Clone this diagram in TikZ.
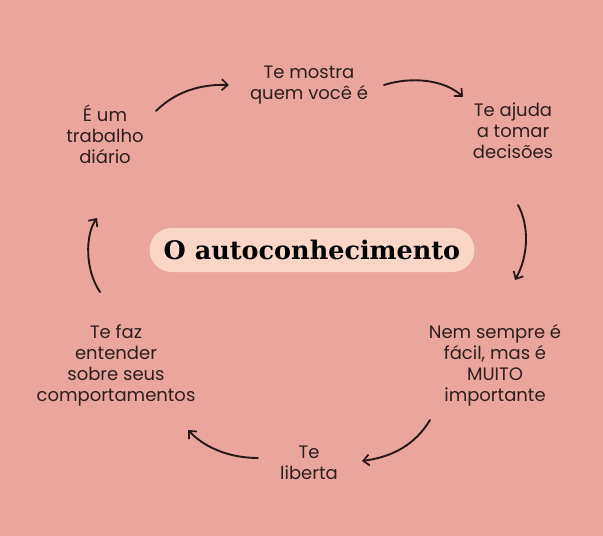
\documentclass[tikz,border=0pt]{standalone}
\usepackage{fontspec}
\setmainfont{Poppins}
\newfontfamily\titlefont{DejaVu Serif}
\usetikzlibrary{arrows.meta}
\definecolor{bg}{RGB}{234,166,156}
\definecolor{pill}{RGB}{250,214,198}
\definecolor{ink}{RGB}{46,30,30}
\definecolor{arrowink}{RGB}{40,22,22}
\tikzset{
  lbl/.style={align=center, inner sep=0pt, text=ink, font=\fontsize{18}{21}\selectfont},
  cyc/.style={draw=arrowink, line width=1.9pt, line cap=round, -{Straight Barb[length=6pt,width=11pt,line width=1.7pt]}}
}
\begin{document}
\begin{tikzpicture}[x=1pt,y=-1pt]
\fill[bg] (0,0) rectangle (603,536);
\useasboundingbox (0,0) rectangle (603,536);
% centre
\node[fill=pill, rounded corners=22pt, minimum width=325pt, minimum height=44pt, inner sep=0pt,
      text=black, font=\titlefont\bfseries\fontsize{25.5}{30}\selectfont] (c) at (312,250) {O autoconhecimento};
% labels
\node[lbl] (mostra) at (309,85) {Te mostra\\quem você é};
\node[lbl] (ajuda) at (513,131) {Te ajuda\\a tomar\\decisões};
\node[lbl] (nem) at (495,365) {Nem sempre é\\fácil, mas é\\MUITO\\importante};
\node[lbl] (liberta) at (309,463) {Te\\liberta};
\node[lbl] (faz) at (116,365) {Te faz\\entender\\sobre seus\\comportamentos};
\node[lbl] (trab) at (105,134) {É um\\trabalho\\diário};
% arrow end points
\coordinate (a1s) at (156,111); \coordinate (a1e) at (229,85);
\coordinate (a2s) at (384,85);  \coordinate (a2e) at (463,97);
\coordinate (a3s) at (518,205); \coordinate (a3e) at (515,280);
\coordinate (a4s) at (430,420); \coordinate (a4e) at (362,461);
\coordinate (a5s) at (258,458); \coordinate (a5e) at (188,430);
\coordinate (a6s) at (100,292); \coordinate (a6e) at (97,218);
\draw[cyc] (a1s) .. controls (175,92) and (200,84) .. (a1e);
\draw[cyc] (a2s) .. controls (412,76) and (445,80) .. (a2e);
\draw[cyc] (a3s) .. controls (529,225) and (529,255) .. (a3e);
\draw[cyc] (a4s) .. controls (415,445) and (392,457) .. (a4e);
\draw[cyc] (a5s) .. controls (230,458) and (205,448) .. (a5e);
\draw[cyc] (a6s) .. controls (85,270) and (85,235) .. (a6e);
\end{tikzpicture}
\end{document}
